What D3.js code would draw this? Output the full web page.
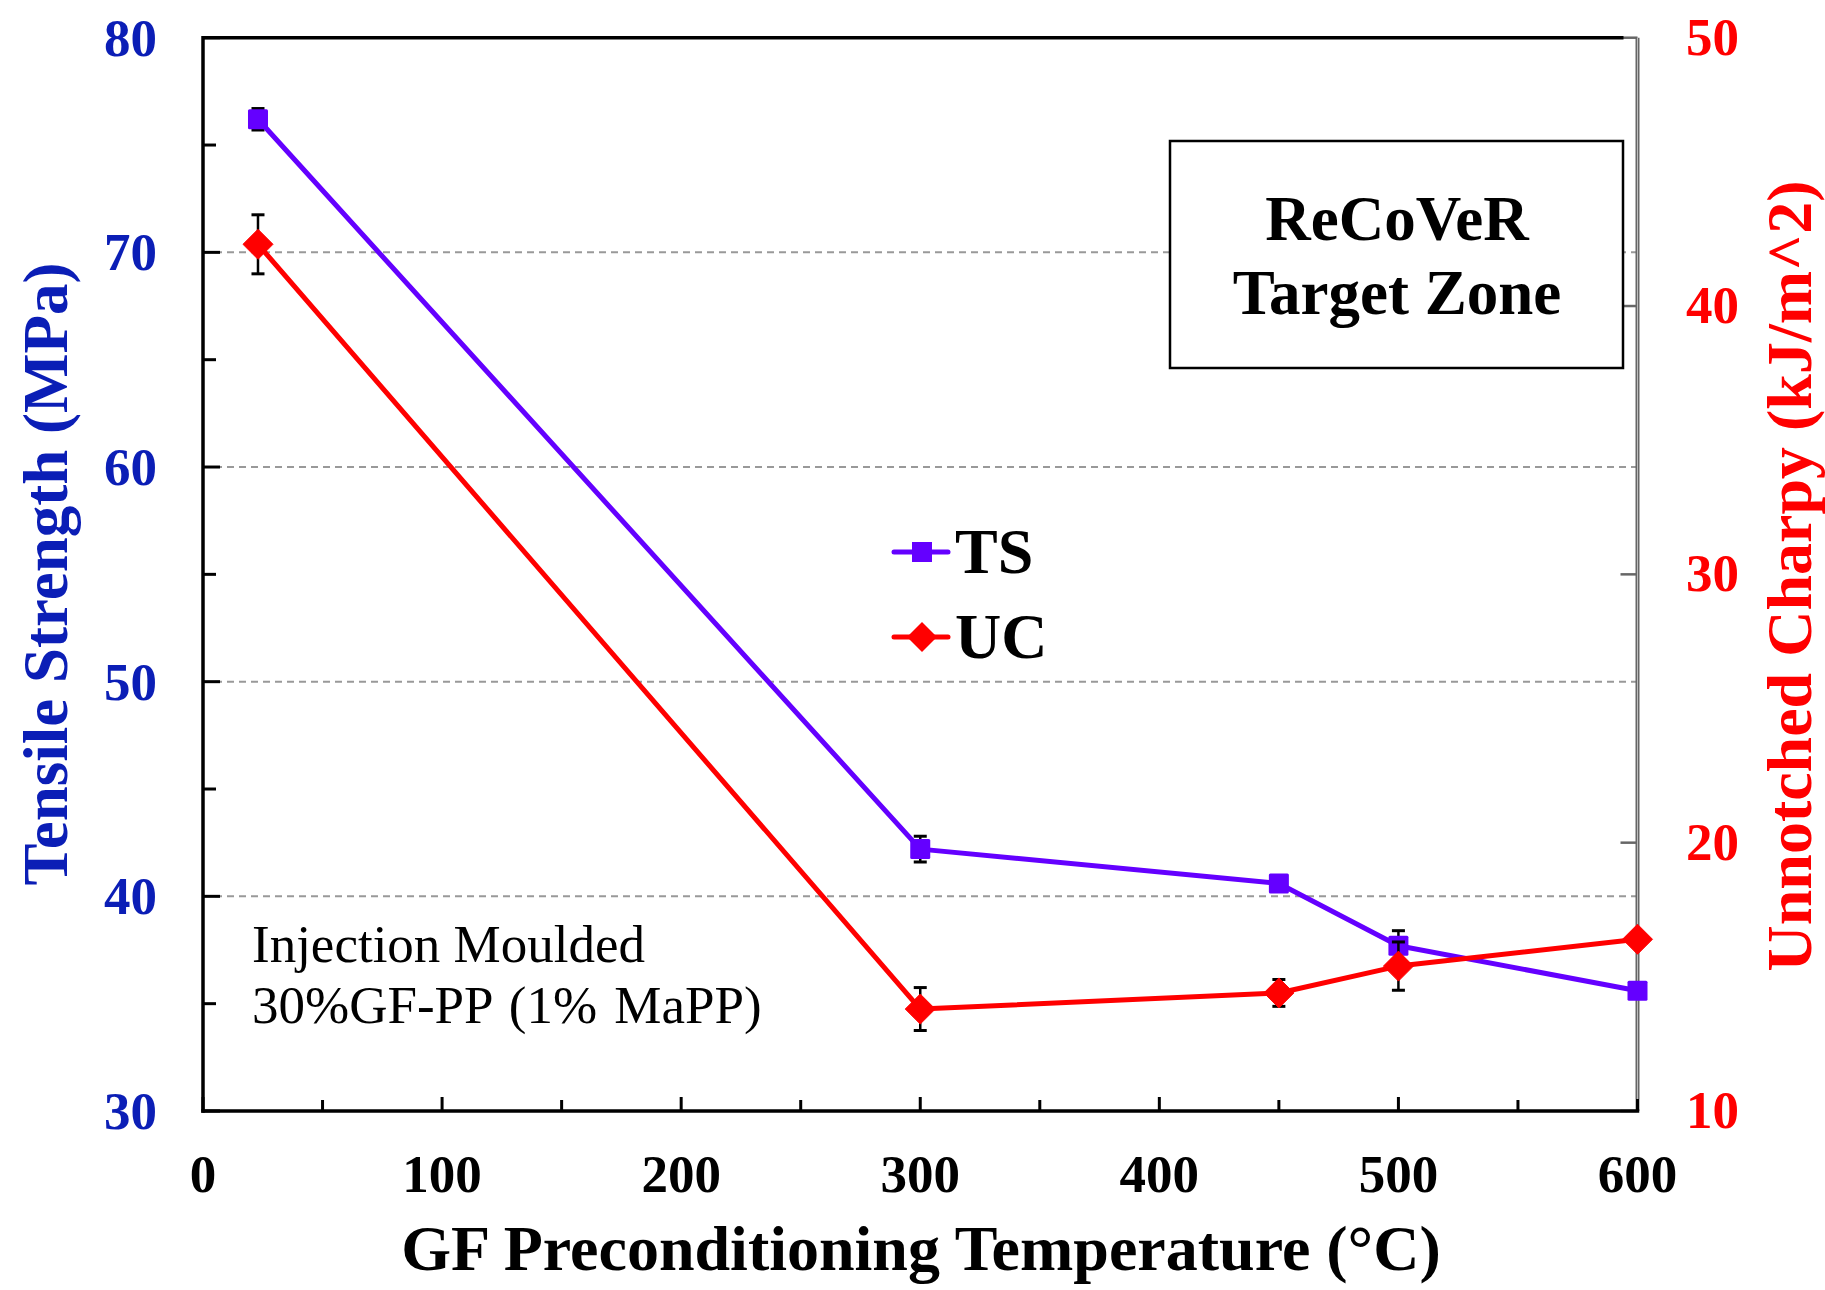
<!DOCTYPE html>
<html>
<head>
<meta charset="utf-8">
<script src="https://cdn.jsdelivr.net/npm/d3@7"></script>
<style>
  html, body { margin: 0; padding: 0; background: #fff; }
  svg { display: block; }
  text { font-family: "Liberation Serif", "Times New Roman", serif; }
</style>
</head>
<body>
<svg id="chart" width="1825" height="1290"></svg>
<script>
// ---- data ----
const temps    = [23, 300, 450, 500, 600];
const tsValues = [76.2, 42.2, 40.6, 37.7, 35.6];
const tsErr    = [0.5, 0.6, 0.3, 0.7, 0.2];
const ucValues = [42.3, 13.8, 14.4, 15.4, 16.4];
const ucErr    = [1.1, 0.8, 0.5, 0.9, 0.0];
const xTicks   = [0, 100, 200, 300, 400, 500, 600];
const yLeftTicks  = [30, 40, 50, 60, 70, 80];
const yRightTicks = [10, 20, 30, 40, 50];
const gridValues  = [40, 50, 60, 70];

// ---- layout ----
const L = 203, R = 1637.5, T = 37.7, B = 1111;
const blue = "#0B1EB6", red = "#FF0000", purple = "#6400FF";

const svg = d3.select("#chart");
const x  = d3.scaleLinear().domain([0, 600]).range([L, R]);
const yL = d3.scaleLinear().domain([30, 80]).range([B, T]);
const yR = d3.scaleLinear().domain([10, 50]).range([B, T]);

// grid lines
svg.append("g").selectAll("line").data(gridValues).join("line")
  .attr("x1", L).attr("x2", R)
  .attr("y1", d => yL(d)).attr("y2", d => yL(d))
  .attr("stroke", "#999").attr("stroke-width", 2)
  .attr("stroke-dasharray", "7,5");

// bottom axis ticks (major + minor, inward)
const xMinor = d3.range(50, 600, 100);
svg.append("g").selectAll("line").data(xTicks.concat(xMinor)).join("line")
  .attr("x1", d => x(d)).attr("x2", d => x(d))
  .attr("y1", B).attr("y2", d => B - (d % 100 === 0 ? 14 : 11))
  .attr("stroke", "#000").attr("stroke-width", 3);

// left axis ticks
const yMinor = d3.range(35, 80, 10);
svg.append("g").selectAll("line").data(yLeftTicks.concat(yMinor)).join("line")
  .attr("x1", L).attr("x2", d => L + (d % 10 === 0 ? 17 : 13))
  .attr("y1", d => yL(d)).attr("y2", d => yL(d))
  .attr("stroke", "#000").attr("stroke-width", 3);

// right axis ticks (gray)
svg.append("g").selectAll("line").data(yRightTicks).join("line")
  .attr("x1", R).attr("x2", R - 17)
  .attr("y1", d => yR(d)).attr("y2", d => yR(d))
  .attr("stroke", "#666").attr("stroke-width", 2.5);

// frame
svg.append("line").attr("x1", L).attr("x2", R - 14).attr("y1", T).attr("y2", T)
  .attr("stroke", "#000").attr("stroke-width", 3.5);
svg.append("line").attr("x1", L).attr("x2", R).attr("y1", B).attr("y2", B)
  .attr("stroke", "#000").attr("stroke-width", 3.5).attr("stroke-linecap", "square");
svg.append("line").attr("x1", L).attr("x2", L).attr("y1", T).attr("y2", B)
  .attr("stroke", "#000").attr("stroke-width", 3.5).attr("stroke-linecap", "square");
svg.append("line").attr("x1", R).attr("x2", R).attr("y1", T).attr("y2", B - 12)
  .attr("stroke", "#666").attr("stroke-width", 4);
svg.append("line").attr("x1", R).attr("x2", R).attr("y1", T).attr("y2", B - 12)
  .attr("stroke", "#bbb").attr("stroke-width", 1);
svg.append("line").attr("x1", R).attr("x2", R).attr("y1", B - 12).attr("y2", B)
  .attr("stroke", "#000").attr("stroke-width", 3.5);

// tick labels
svg.append("g").selectAll("text").data(yLeftTicks).join("text")
  .attr("x", 157).attr("y", d => yL(d) + 18)
  .attr("text-anchor", "end").attr("font-size", 53).attr("font-weight", "bold")
  .attr("fill", blue).text(d => d);
svg.append("g").selectAll("text").data(yRightTicks).join("text")
  .attr("x", 1686).attr("y", d => yR(d) + 17)
  .attr("text-anchor", "start").attr("font-size", 53).attr("font-weight", "bold")
  .attr("fill", red).text(d => d);
svg.append("g").selectAll("text").data(xTicks).join("text")
  .attr("x", d => x(d)).attr("y", 1192)
  .attr("text-anchor", "middle").attr("font-size", 53).attr("font-weight", "bold")
  .attr("fill", "#000").text(d => d);

// axis titles
svg.append("text").attr("x", 921).attr("y", 1270)
  .attr("text-anchor", "middle").attr("font-size", 64).attr("font-weight", "bold")
  .text("GF Preconditioning Temperature (°C)");
svg.append("text").attr("transform", "translate(67,574) rotate(-90)")
  .attr("text-anchor", "middle").attr("font-size", 63).attr("font-weight", "bold")
  .attr("fill", blue).text("Tensile Strength (MPa)");
svg.append("text").attr("transform", "translate(1811,576) rotate(-90)")
  .attr("text-anchor", "middle").attr("font-size", 64).attr("font-weight", "bold")
  .attr("fill", red).text("Unnotched Charpy (kJ/m^2)");

// series helper
const diamond = "M0,-15L15,0L0,15L-15,0Z";
function drawSeries(vals, errs, yScale, color, marker) {
  const pts = temps.map((t, i) => ({ t, v: vals[i], e: errs[i] }));
  const g = svg.append("g");
  // error bars
  const eb = g.append("g").attr("stroke", "#000").attr("stroke-width", 2.5);
  pts.filter(p => p.e > 0).forEach(p => {
    const cx = x(p.t), y1 = yScale(p.v + p.e), y2 = yScale(p.v - p.e);
    eb.append("line").attr("x1", cx).attr("x2", cx).attr("y1", y1).attr("y2", y2);
    eb.append("line").attr("x1", cx - 6.5).attr("x2", cx + 6.5).attr("y1", y1).attr("y2", y1).attr("stroke-width", 3);
    eb.append("line").attr("x1", cx - 6.5).attr("x2", cx + 6.5).attr("y1", y2).attr("y2", y2).attr("stroke-width", 3);
  });
  // line
  g.append("path").datum(pts)
    .attr("d", d3.line().x(p => x(p.t)).y(p => yScale(p.v)))
    .attr("fill", "none").attr("stroke", color).attr("stroke-width", 5)
    .attr("stroke-linejoin", "round");
  // markers
  if (marker === "square") {
    g.selectAll("rect.m").data(pts).join("rect").attr("class", "m")
      .attr("x", p => x(p.t) - 10).attr("y", p => yScale(p.v) - 10)
      .attr("width", 20).attr("height", 20).attr("rx", 1.5).attr("fill", color);
  } else {
    g.selectAll("path.m").data(pts).join("path").attr("class", "m")
      .attr("transform", p => `translate(${x(p.t)},${yScale(p.v)})`)
      .attr("d", diamond).attr("fill", color)
      .attr("stroke", color).attr("stroke-width", 1).attr("stroke-linejoin", "round");
  }
}
drawSeries(tsValues, tsErr, yL, purple, "square");
drawSeries(ucValues, ucErr, yR, red, "diamond");

// legend
const leg = svg.append("g");
leg.append("line").attr("x1", 894).attr("x2", 948).attr("y1", 552).attr("y2", 552)
  .attr("stroke", purple).attr("stroke-width", 5).attr("stroke-linecap", "round");
leg.append("rect").attr("x", 912).attr("y", 542).attr("width", 20).attr("height", 20).attr("fill", purple);
leg.append("text").attr("x", 955).attr("y", 573).attr("font-size", 64).attr("font-weight", "bold").text("TS");
leg.append("line").attr("x1", 894).attr("x2", 948).attr("y1", 637).attr("y2", 637)
  .attr("stroke", red).attr("stroke-width", 5).attr("stroke-linecap", "round");
leg.append("path").attr("transform", "translate(922,637)").attr("d", diamond).attr("fill", red);
leg.append("text").attr("x", 955).attr("y", 658).attr("font-size", 64).attr("font-weight", "bold").text("UC");

// ReCoVeR box
svg.append("rect").attr("x", 1170).attr("y", 141).attr("width", 453).attr("height", 227)
  .attr("fill", "#fff").attr("stroke", "#000").attr("stroke-width", 2.5);
svg.append("text").attr("x", 1397).attr("y", 240).attr("text-anchor", "middle")
  .attr("font-size", 63).attr("font-weight", "bold").text("ReCoVeR");
svg.append("text").attr("x", 1397).attr("y", 314).attr("text-anchor", "middle")
  .attr("font-size", 63).attr("font-weight", "bold").text("Target Zone");

// annotation
svg.append("text").attr("x", 252).attr("y", 962).attr("font-size", 53).text("Injection Moulded");
svg.append("text").attr("x", 252).attr("y", 1023).attr("font-size", 53).attr("word-spacing", 4).text("30%GF-PP (1% MaPP)");
</script>
</body>
</html>
